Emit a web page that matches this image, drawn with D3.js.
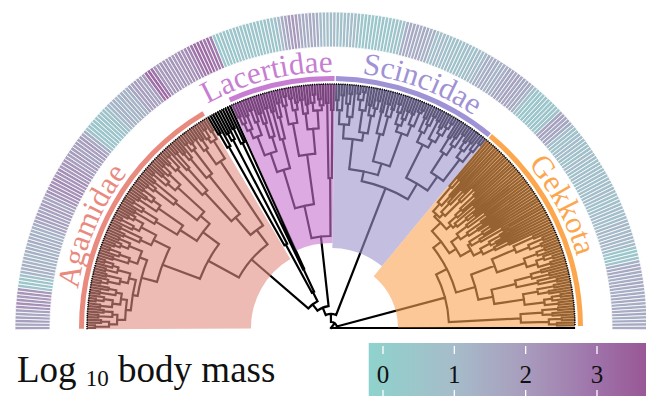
<!DOCTYPE html>
<html><head><meta charset="utf-8">
<script src="https://cdn.jsdelivr.net/npm/d3@7"></script>
<style>body{margin:0;background:#fff}svg{display:block}</style>
</head><body>
<svg id="c" width="646" height="396"></svg>
<script>
// ---------------- DATA ----------------
const clades = ["Agamidae", "Lacertidae", "Scincidae", "Gekkota"];
// depth (same units as node heights) where each clade's highlight begins
const cladeFromDepth = [80, 85, 80, 67];
const legendTicks = [0, 1, 2, 3];
const legendTitle = ["Log ", "10", " body mass"];

// tree topology: "(child,child)height", t = tip (tips at height 243)
const agB1 = "(((t,t)236,(t,t)230)222,((t,t)233,(t,t)228)219)214";
const agB2 = "(((t,t)232,((t,t)237,t)229)220,((t,t)234,(t,t)226)218)212";
const agB3 = "((((t,t)235,t)228,(t,t)231)216,((t,t)233,(t,(t,t)236)227)221)208";
const agB4 = "(((t,t)229,(t,(t,t)235)224)213,(((t,t)232,t)226,(t,t)230)218)204";
const agB5 = "(((t,t)227,(t,t)233)210,((t,(t,t)236)222,((t,t)231,t)225)215)198";
const agM1 = "(((t,t)228,(t,(t,t)234)222)205,((t,t)231,((t,t)226,(t,t)233)219)210)180";
const agM2 = "((((t,t)232,t)224,(t,t)229)200,(((t,t)235,(t,t)227)218,(t,(t,t)233)223)208)172";
const agHigh = "((((t,t)230,(t,t)236)221,(t,(t,t)233)214)185,(((t,t)228,t)220,((t,t)234,(t,t)231)225)195)146";
const agTop = "(((t,t)232,(t,t)228)218,((t,(t,t)235)226,(t,t)230)221)200";
const laM1 = "((((((t,t)230,t)222,(t,t)228)214,((t,t)232,t)219)205,(((t,t)226,t)215,(t,t)229)200)185,((t,t)224,(t,(t,t)231)217)195)165";
const laM2 = "(((t,(t,t)236)227,((t,t)233,(t,t)228)221)208,(((t,t)230,(t,t)225)216,((t,(t,t)234)226,((t,t)229,t)223)218)200)175";
const laR = "((t,t)225,(t,t)218)150";
const scL1 = "((((t,t)228,(t,t)233)218,((t,(t,t)235)225,t)212)204,((((t,t)236,(t,t)238)230,t)220,((t,t)226,(t,(t,t)232)224)216)198)190";
const scL2 = "(((t,t)222,((t,t)231,(t,t)227)219)200,((((t,t)234,t)226,(t,(t,t)230)221)214,((t,t)229,(t,(t,t)236)233)218)207)172";
const scR1 = "(((t,t)230,(t,(t,t)235)225)216,((t,t)233,((t,t)228,(t,(t,t)237)231)222)213)205";
const scR2 = "(((t,t)224,((t,t)227,(t,t)234)219)208,(((t,t)229,(t,t)232)221,(t,(t,t)236)226)212)185";
const gkA = "((((t,(t,t)196)185,(t,t)178)165,((t,(t,t)190)172,(t,(t,t)199)181)160)155,((((t,t)195,t)176,t)168,((t,t)188,(t,(t,t)183)174)162)158)152";
const gkB = "(((t,(t,t)192)170,((t,t)184,(t,t)177)166)157,((((t,t)189,t)179,(t,(t,t)198)173)163,(((t,t)193,(t,t)186)180,(t,(t,t)197)182)169)160)148";
const gkC = "(((t,t)222,((t,t)230,(t,t)226)214)200,(((t,t)228,t)219,((t,(t,t)233)224,(t,t)229)216)205)175";
const gkD = "((((t,t)218,(t,t)225)207,(t,(t,t)231)212)190,(((t,t)227,(t,t)221)210,(((t,t)232,t)223,(t,t)229)215)195)165";
const gkLow = "(((t,t)228,(t,t)222)212,((t,t)231,(t,t)226)218)190";

const cladeTrees = {
  Agamidae: `((((((${agB1},${agB2})206,${agB3})201,${agB4})196,${agB5})180,(${agM1},${agM2})160)140,(${agHigh},${agTop})123)105`,
  Other: "((((t,t)224,t)208,((t,t)220,t)212)95,(((t,t)222,t)205,t)65)40",
  Lacertidae: `((${laM1},${laM2})125,${laR})92`,
  Scincidae: `((${scL1},${scL2})160,(${scR1},${scR2})168)150`,
  Gekkota: `(((${gkA},${gkB})140,(${gkC},${gkD})150)130,${gkLow})118`
};
const backbone = "(((((Agamidae,Other)30,Lacertidae)22,Scincidae)14,Gekkota)6,t)0";

// log10 body mass for each tip, in tip order (left end -> right end)
const bodyMass = [
  1.8,1.7,1.9,1.8,1.6,1.8,
  2.1,2.3,2.2,2.0,2.2,2.1,
  0.7,0.5,0.6,0.7,
  1.2,1.3,1.4,1.2,1.3,1.1,1.4,1.3,1.2,1.5,1.3,1.4,1.2,1.3,1.5,
  1.7,1.8,1.9,1.7,1.8,2.0,1.8,1.7,1.9,
  2.2,2.1,2.3,2.2,2.4,2.1,2.2,2.3,2.0,2.2,2.1,
  1.9,1.8,2.0,1.9,1.7,1.9,1.8,2.0,1.6,1.4,
  0.7,0.5,0.6,0.4,0.6,0.5,0.7,0.6,0.8,
  1.1,1.2,1.3,1.1,1.2,1.4,1.2,1.3,
  1.7,1.8,1.9,1.8,1.7,2.0,
  3.0,3.2,2.9,
  2.1,2.0,2.2,2.1,1.9,2.2,2.0,2.1,2.3,2.2,2.4,2.5,
  2.9,3.1,3.0,3.2,2.8,3.0,2.7,
  0.5,0.4,0.6,0.5,0.4,0.5,0.7,0.5,0.4,0.6,0.5,0.5,0.6,0.4,0.5,0.7,0.6,0.5,0.8,1.0,
  1.5,1.7,2.0,2.1,1.9,1.6,1.5,1.4,1.6,1.5,1.4,
  1.0,0.9,0.8,0.9,1.0,0.8,0.7,0.9,0.8,1.0,0.9,0.8,
  0.5,0.4,0.6,0.5,0.4,0.5,0.6,0.4,0.5,0.5,0.6,0.7,0.6,
  1.4,1.5,1.6,1.5,1.4,1.6,1.5,1.3,1.4,
  0.9,0.8,1.0,0.9,
  0.8,0.7,0.9,0.8,0.6,0.8,0.9,0.7,0.8,1.0,0.9,1.1,
  1.4,1.3,1.5,1.4,1.2,1.4,1.3,
  1.6,1.7,1.5,1.8,1.6,1.7,1.5,1.6,1.2,0.9,
  0.5,0.4,0.5,0.6,0.4,0.5,0.6,0.5,0.7,
  1.7,1.8,1.6,1.7,1.5,
  0.8,0.9,0.7,0.8,1.0,0.8,0.9,0.7,0.8,0.9,1.0,0.8,0.7,0.9,0.8,
  0.8,0.9,0.7,0.8,0.9,0.8,1.0,0.9,0.8,0.7,0.9,0.8,1.0,0.9,0.8,0.9,
  1.1,1.2,1.0,1.1,1.2,1.1,1.0,1.1,
  0.5,0.4,0.6,0.5,
  1.4,1.5,1.6,1.5,1.4,1.5,1.6,1.5,1.4,1.5,1.5,1.6,1.4,1.5,1.5,1.6,1.4,1.5,1.6,1.5
];

// ---------------- STYLE / LAYOUT ----------------
const cx = 331, cy = 328;
const TIP_DEPTH = 243;
const tipR = 243;
const ringIn = 281, ringOut = 316;
const barIn = 247, barOut = 252;
const labelR = 256;
const style = {
  Agamidae:   {fill: "#e18e82", bar: "#e98a7f", label: 157},
  Lacertidae: {fill: "#c871cf", bar: "#c77ed2", label: 104.3},
  Scincidae:  {fill: "#9d93cb", bar: "#9f92d5", label: 69.6},
  Gekkota:    {fill: "#fca353", bar: "#fca64e", label: 28}
};
const overlayOpacity = 0.6;
const serif = "'Liberation Serif','DejaVu Serif',serif";

// ---------------- PARSE TREE ----------------
function parseTree(str) {
  str = str.replace(/\s+/g, "");
  let i = 0;
  function readNode() {
    if (str[i] === "(") {
      i++;
      const children = [readNode()];
      while (str[i] === ",") { i++; children.push(readNode()); }
      i++;
      let num = "";
      while (i < str.length && /[0-9.]/.test(str[i])) num += str[i++];
      return {h: +num, children};
    }
    let name = "";
    while (i < str.length && /[A-Za-z]/.test(str[i])) name += str[i++];
    if (name === "t") return {h: TIP_DEPTH};
    const sub = parseTree(cladeTrees[name]);
    sub.clade = name;
    return sub;
  }
  return readNode();
}

const root = d3.hierarchy(parseTree(backbone), d => d.children);
const leaves = root.leaves();
const N = leaves.length;
const angle = d3.scaleLinear().domain([0, N - 1]).range([180, 0]);
const rScale = d3.scaleLinear().domain([0, TIP_DEPTH]).range([0, tipR]);
const step = 180 / (N - 1);
leaves.forEach((l, i) => { l.idx = i; l.theta = angle(i); });
root.eachAfter(d => {
  if (d.children) d.theta = d3.mean(d.children, c => c.theta);
  d.r = rScale(d.data.h);
});

const rad = a => a * Math.PI / 180;
const polar = (r, t) => [cx + r * Math.cos(rad(t)), cy - r * Math.sin(rad(t))];
const d3a = t => rad(90 - t);

const svg = d3.select("#c");

// ---------------- TREE LINES ----------------
let p = "";
root.descendants().forEach(d => {
  if (d.parent) {
    const a = polar(d.parent.r, d.theta), b = polar(d.r, d.theta);
    p += `M${a[0].toFixed(2)},${a[1].toFixed(2)}L${b[0].toFixed(2)},${b[1].toFixed(2)}`;
  }
  if (d.children && d.r > 0.5) {
    const t1 = d.children[0].theta, t2 = d.children[d.children.length - 1].theta;
    const a = polar(d.r, t1), b = polar(d.r, t2);
    p += `M${a[0].toFixed(2)},${a[1].toFixed(2)}A${d.r},${d.r} 0 0 1 ${b[0].toFixed(2)},${b[1].toFixed(2)}`;
  }
});
svg.append("path").attr("d", p).attr("fill", "none").attr("stroke", "#000")
  .attr("stroke-width", 2.2).attr("stroke-linecap", "square");

// ---------------- CLADE HIGHLIGHTS ----------------
const cladeNodes = {};
root.descendants().forEach(d => { if (d.data.clade) cladeNodes[d.data.clade] = d; });
const g = svg.append("g").attr("transform", `translate(${cx},${cy})`);

clades.forEach((name, k) => {
  const lv = cladeNodes[name].leaves();
  const tHi = lv[0].theta + step / 2, tLo = lv[lv.length - 1].theta - step / 2;
  g.append("path")
    .attr("d", d3.arc().innerRadius(rScale(cladeFromDepth[k])).outerRadius(tipR + 1)
      .startAngle(d3a(tHi)).endAngle(d3a(tLo))())
    .attr("fill", style[name].fill).attr("opacity", overlayOpacity);
  g.append("path")
    .attr("d", d3.arc().innerRadius(barIn).outerRadius(barOut)
      .startAngle(d3a(tHi - 0.15)).endAngle(d3a(tLo + 0.15))())
    .attr("fill", style[name].bar);
});

// dotted tip line
{
  const a = polar(tipR + 1, 180.3), b = polar(tipR + 1, 0.6);
  svg.append("path").attr("d", `M${a}A${tipR + 1},${tipR + 1} 0 0 1 ${b}`)
    .attr("fill", "none").attr("stroke", "#000").attr("stroke-width", 1.6)
    .attr("stroke-dasharray", "1.1 1.1");
}

// ---------------- COLOR SCALE ----------------
const color = d3.scaleLinear()
  .domain([-0.2, 0, 1, 2, 3, 3.7])
  .range(["#8fd3ce", "#92cfcb", "#a6bcca", "#a89cbd", "#9e72a9", "#995795"]);

// ---------------- RING ----------------
g.selectAll("path.cell").data(leaves).join("path").attr("class", "cell")
  .attr("d", l => d3.arc().innerRadius(ringIn).outerRadius(ringOut)
    .startAngle(d3a(l.theta + step / 2)).endAngle(d3a(l.theta - step / 2))())
  .attr("fill", l => bodyMass[l.idx] == null ? "none" : color(bodyMass[l.idx]))
  .attr("stroke", "#fff").attr("stroke-width", 0.8);

// ---------------- CLADE LABELS ----------------
{
  const a = polar(labelR, 180), b = polar(labelR, 0);
  svg.append("defs").append("path").attr("id", "labelArc")
    .attr("d", `M${a}A${labelR},${labelR} 0 0 1 ${b}`);
  clades.forEach(name => {
    const off = labelR * rad(180 - style[name].label);
    svg.append("text").attr("font-family", serif).attr("font-size", 31)
      .attr("fill", style[name].bar)
      .append("textPath").attr("href", "#labelArc")
      .attr("startOffset", off).attr("text-anchor", "middle").text(name);
  });
}

// ---------------- LEGEND ----------------
const lx = d3.scaleLinear().domain([0, 3]).range([383, 597]);
const grad = svg.select("defs").append("linearGradient").attr("id", "lg")
  .attr("gradientUnits", "userSpaceOnUse").attr("x1", lx(-0.2)).attr("x2", lx(3.7))
  .attr("y1", 0).attr("y2", 0);
d3.range(0, 21).forEach(i => {
  const v = -0.2 + i * (3.9 / 20);
  grad.append("stop").attr("offset", (i / 20)).attr("stop-color", color(v));
});
svg.append("rect").attr("x", lx(-0.2)).attr("y", 343).attr("width", lx(3.7) - lx(-0.2))
  .attr("height", 60).attr("fill", "url(#lg)");
const tk = svg.append("g");
legendTicks.forEach(v => {
  tk.append("line").attr("x1", lx(v)).attr("x2", lx(v)).attr("y1", 346).attr("y2", 354)
    .attr("stroke", "#fff").attr("stroke-width", 1.3);
  tk.append("line").attr("x1", lx(v)).attr("x2", lx(v)).attr("y1", 390).attr("y2", 398)
    .attr("stroke", "#fff").attr("stroke-width", 1.3);
  tk.append("text").attr("x", lx(v)).attr("y", 383).attr("text-anchor", "middle")
    .attr("font-family", serif).attr("font-size", 25).attr("fill", "#111").text(v);
});

const title = svg.append("text").attr("x", 17).attr("y", 382)
  .attr("font-family", serif).attr("font-size", 37).attr("fill", "#111");
title.append("tspan").text(legendTitle[0]);
title.append("tspan").attr("font-size", 23).attr("dy", 4).text(legendTitle[1]);
title.append("tspan").attr("dy", -4).text(legendTitle[2]);
</script>
</body></html>
